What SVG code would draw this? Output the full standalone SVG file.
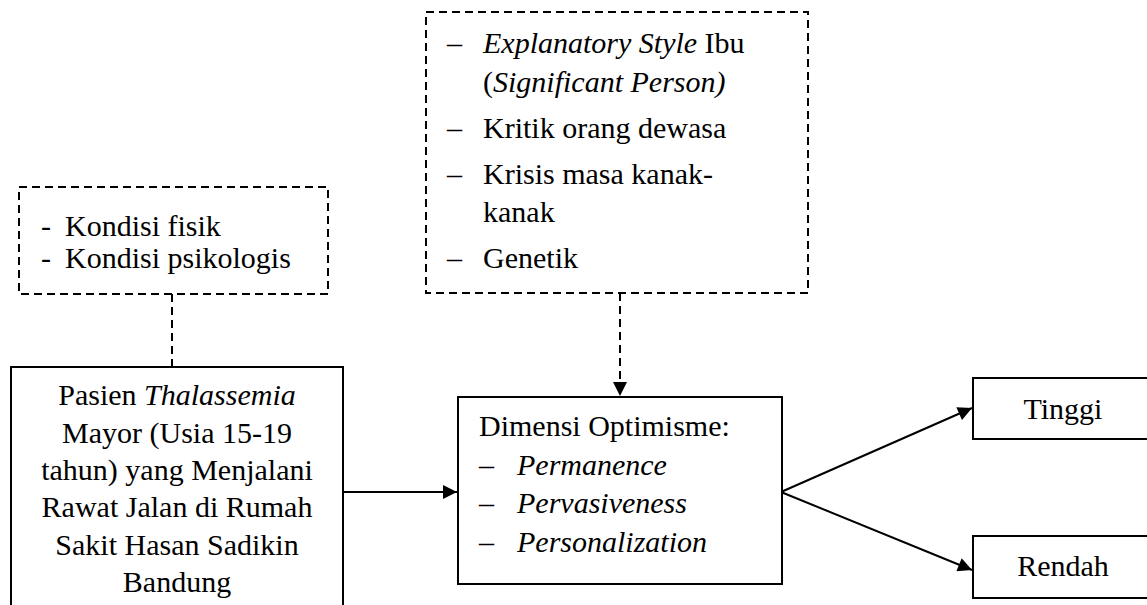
<svg xmlns="http://www.w3.org/2000/svg" width="1147" height="605" viewBox="0 0 1147 605" font-family="Liberation Serif, 'Times New Roman', serif" font-size="30">
<style>
.i{font-style:italic}
.box{fill:#fff;stroke:#000;stroke-width:2}
.dbox{fill:none;stroke:#000;stroke-width:2;stroke-dasharray:8,5}
.ln{fill:none;stroke:#000;stroke-width:2}
.dln{fill:none;stroke:#000;stroke-width:2;stroke-dasharray:8,5}
</style>
<defs>
<marker id="ahb" viewBox="0 0 10 10" refX="10" refY="5" markerWidth="16" markerHeight="14" markerUnits="userSpaceOnUse" orient="auto">
<path d="M0,0 L10,5 L0,10 z" fill="#000"/>
</marker>
</defs>
<g id="connectors">
<path class="dln" d="M172,294 V367"/>
<path class="dln" d="M620,293 V396" marker-end="url(#ahb)"/>
<path class="ln" d="M343,492 H457" marker-end="url(#ahb)"/>
<path class="ln" d="M781,492 L972,408" marker-end="url(#ahb)"/>
<path class="ln" d="M781,492 L972,570" marker-end="url(#ahb)"/>
</g>
<g id="factors1">
<rect class="dbox" x="19" y="187" width="309" height="107"/>
<text x="41" y="236">-</text><text x="65" y="236">Kondisi fisik</text>
<text x="41" y="268">-</text><text x="65" y="268">Kondisi psikologis</text>
</g>
<g id="factors2">
<rect class="dbox" x="426" y="12" width="382" height="281"/>
<text x="447" y="53">–</text><text x="483" y="53"><tspan class="i">Explanatory Style</tspan> Ibu</text>
<text x="483" y="92">(<tspan class="i">Significant Person)</tspan></text>
<text x="447" y="138">–</text><text x="483" y="138">Kritik orang dewasa</text>
<text x="447" y="184">–</text><text x="483" y="184">Krisis masa kanak-</text>
<text x="483" y="222">kanak</text>
<text x="447" y="268">–</text><text x="483" y="268">Genetik</text>
</g>
<g id="pasien">
<rect class="box" x="11" y="367" width="332" height="250"/>
<g text-anchor="middle">
<text x="177" y="405">Pasien <tspan class="i">Thalassemia</tspan></text>
<text x="177" y="443">Mayor (Usia 15-19</text>
<text x="177" y="480">tahun) yang Menjalani</text>
<text x="177" y="517">Rawat Jalan di Rumah</text>
<text x="177" y="555">Sakit Hasan Sadikin</text>
<text x="177" y="592">Bandung</text>
</g>
</g>
<g id="dimensi">
<rect class="box" x="458" y="397" width="324" height="187"/>
<text x="479" y="436">Dimensi Optimisme:</text>
<text x="479" y="475">–</text><text class="i" x="517" y="475">Permanence</text>
<text x="479" y="513">–</text><text class="i" x="517" y="513">Pervasiveness</text>
<text x="479" y="552">–</text><text class="i" x="517" y="552">Personalization</text>
</g>
<g id="tinggi">
<rect class="box" x="973" y="378" width="190" height="61"/>
<text x="1063" y="419" text-anchor="middle">Tinggi</text>
</g>
<g id="rendah">
<rect class="box" x="973" y="536" width="190" height="62"/>
<text x="1063" y="576" text-anchor="middle">Rendah</text>
</g>
</svg>
